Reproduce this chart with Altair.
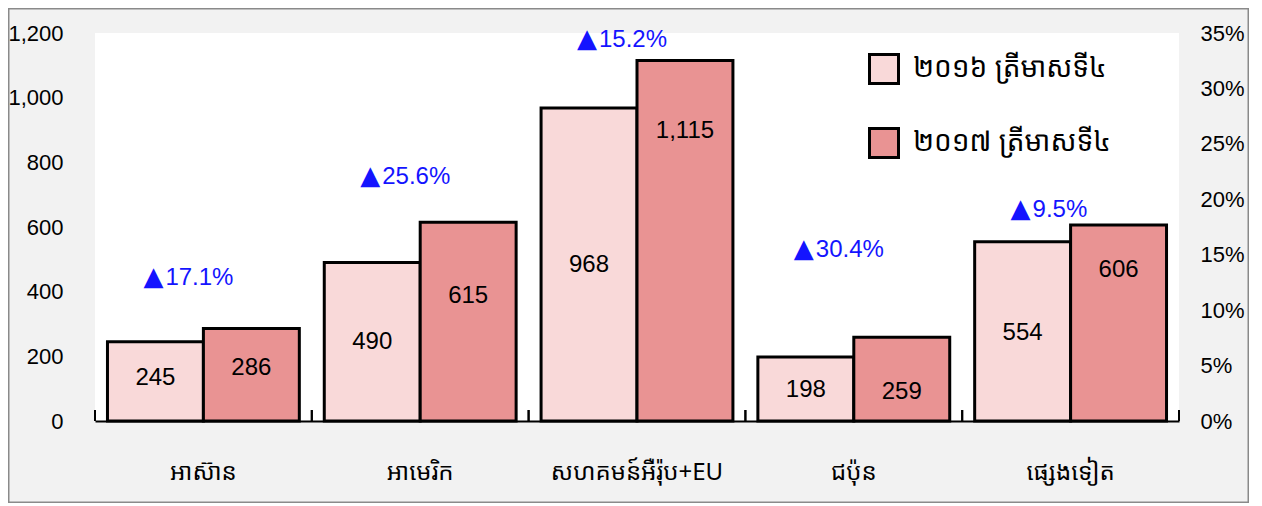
import altair as alt
import pandas as pd

regions = ["អាស៊ាន", "អាមេរិក", "សហគមន៍អឺរ៉ុប+EU", "ជប៉ុន", "ផ្សេងទៀត"]
series = ["២០១៦ ត្រីមាសទី៤", "២០១៧ ត្រីមាសទី៤"]
q4_2016 = [245, 490, 968, 198, 554]
q4_2017 = [286, 615, 1115, 259, 606]
growth = [17.1, 25.6, 15.2, 30.4, 9.5]
# heights (left-axis units) where the value labels sit
label_2016 = [133, 244, 482, 96, 272]
label_2017 = [164, 387, 897, 90, 467]
# heights (right-axis units, %) where the growth labels sit
growth_label_pos = [12.9, 22.0, 34.4, 15.4, 19.0]

y_ticks = [0, 200, 400, 600, 800, 1000, 1200]
pct_ticks = [0, 5, 10, 15, 20, 25, 30, 35]

NUM_FONT = "Liberation Sans, Arial, sans-serif"
KH_FONT = "Noto Sans Khmer, Khmer OS System, Khmer OS, Noto Serif Khmer, sans-serif"
C16 = "#f9d9d9"
C17 = "#e99393"
BLUE = "#1414ff"

rows = []
for i, r in enumerate(regions):
    rows.append({"region": r, "series": series[0], "value": q4_2016[i], "ly": label_2016[i]})
    rows.append({"region": r, "series": series[1], "value": q4_2017[i], "ly": label_2017[i]})
df = pd.DataFrame(rows)

gdf = pd.DataFrame({
    "region": regions,
    "growth": growth,
    "gpos": growth_label_pos,
    "glabel": [f"{g:.1f}%" for g in growth],
    "tri": ["▲"] * len(regions),
})
rdf = pd.DataFrame({"region": regions})

xscale = alt.Scale(domain=regions, paddingInner=0, paddingOuter=0)
yscale = alt.Scale(domain=[0, 1200], nice=False, zero=True)

x_enc = alt.X(
    "region:N", sort=regions, scale=xscale,
    axis=alt.Axis(
        title=None, ticks=False, domain=True, domainColor="black", domainWidth=2,
        labelAngle=0, labelFontSize=24, labelFont=KH_FONT, labelColor="black",
        labelPadding=51, labelBaseline="middle",
    ),
)
xoff = alt.XOffset("series:N", sort=series,
                   scale=alt.Scale(domain=series, paddingOuter=0.13, paddingInner=0))

bars = alt.Chart(df).mark_bar(stroke="black", strokeWidth=3).encode(
    x=x_enc,
    xOffset=xoff,
    y=alt.Y(
        "value:Q", scale=yscale,
        axis=alt.Axis(
            title=None, values=y_ticks, labelExpr="format(datum.value, ',')",
            domain=False, ticks=False, grid=False, labelPadding=32,
            labelFontSize=22, labelFont=NUM_FONT, labelColor="black",
        ),
    ),
    fill=alt.Fill("series:N", sort=series,
                  scale=alt.Scale(domain=series, range=[C16, C17]),
                  legend=alt.Legend(title=None)),
)

bar_text = alt.Chart(df).mark_text(
    fontSize=24, font=NUM_FONT, color="black", baseline="middle"
).encode(
    x=alt.X("region:N", sort=regions, scale=xscale),
    xOffset=xoff,
    y=alt.Y("ly:Q", scale=yscale),
    text=alt.Text("value:Q", format=","),
)

tick_l = alt.Chart(rdf).mark_rule(color="black", strokeWidth=2).encode(
    x=alt.X("region:N", sort=regions, scale=xscale, bandPosition=0),
    y=alt.YDatum(0, scale=yscale),
    y2=alt.datum(34),
)
tick_r = alt.Chart(rdf).mark_rule(color="black", strokeWidth=2).encode(
    x=alt.X("region:N", sort=regions, scale=xscale, bandPosition=1),
    y=alt.YDatum(0, scale=yscale),
    y2=alt.datum(34),
)

frame = alt.Chart(pd.DataFrame({"a": [0]})).mark_rect(
    fillOpacity=0, stroke="#8a8a8a", strokeWidth=3
).encode(
    x=alt.value(-87), x2=alt.value(1154), y=alt.value(-25), y2=alt.value(470)
)

left = alt.layer(bars, bar_text, tick_l, tick_r, frame)

pct_y = alt.Y(
    "gpos:Q", scale=alt.Scale(domain=[0, 35], nice=False),
    axis=alt.Axis(
        orient="right", title=None, values=pct_ticks,
        labelExpr="datum.value + '%'", domain=False, ticks=False, grid=False,
        labelPadding=21, labelFontSize=22, labelFont=NUM_FONT, labelColor="black",
    ),
)

pct = alt.Chart(gdf).mark_text(
    fontSize=24, font=NUM_FONT, color=BLUE, baseline="middle", align="left", dx=-38
).encode(
    x=alt.X("region:N", sort=regions, scale=xscale),
    y=pct_y,
    text="glabel:N",
)
tri = alt.Chart(gdf).mark_text(
    fontSize=26, font="DejaVu Sans", color=BLUE, baseline="middle", align="right", dx=-40, dy=-1
).encode(
    x=alt.X("region:N", sort=regions, scale=xscale),
    y=alt.Y("gpos:Q", scale=alt.Scale(domain=[0, 35], nice=False)),
    text="tri:N",
)

right = alt.layer(pct, tri)

chart = alt.layer(left, right).resolve_scale(y="independent").properties(
    width=1084, height=388,
    autosize=alt.AutoSizeParams(type="none"),
    padding={"left": 87, "top": 25, "right": 70, "bottom": 82},
    background="#f2f2f2",
).configure_view(
    fill="white", strokeWidth=0
).configure_legend(
    orient="none", legendX=773, legendY=20, symbolType="square", symbolSize=841,
    symbolStrokeColor="black", symbolStrokeWidth=3, labelFontSize=28,
    labelFont=KH_FONT, labelColor="black", labelOffset=13, rowPadding=32,
    labelLimit=0, padding=0,
)

chart.save("out.html", embed_options={"renderer": "svg", "actions": False})
